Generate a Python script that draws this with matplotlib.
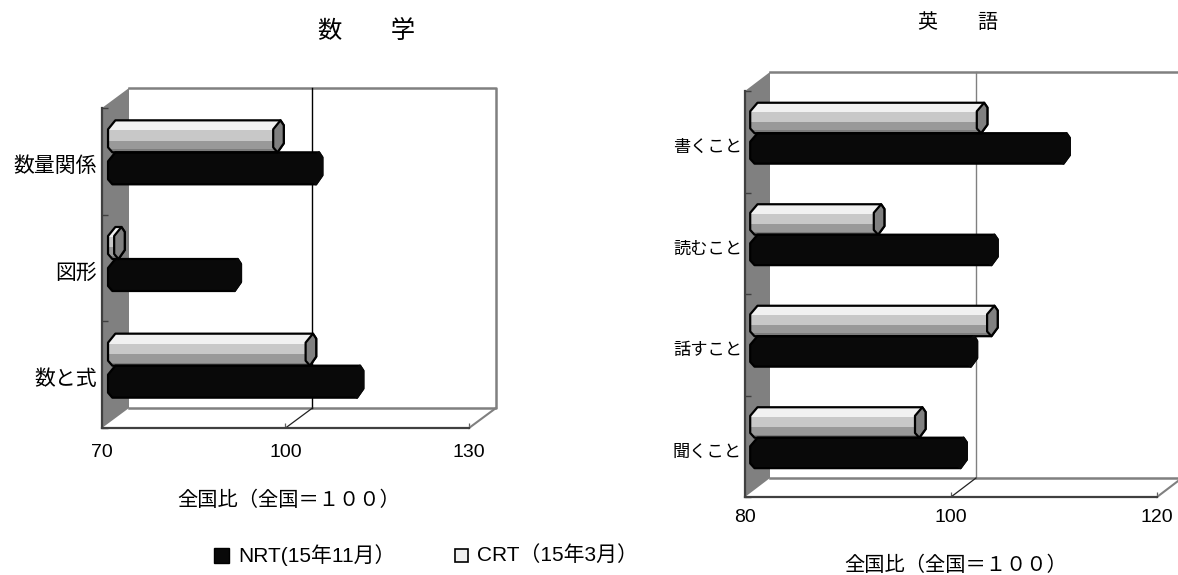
import matplotlib
matplotlib.use('Agg')
import matplotlib.pyplot as plt
from matplotlib.patches import Polygon, Rectangle
from matplotlib.transforms import Affine2D, Bbox, IdentityTransform

plt.rcParams['font.family'] = ['Liberation Sans', 'Noto Sans CJK JP', 'DejaVu Sans']

W, H = 1178, 575

# 数学
math_cats = ['数と式', '図形', '数量関係']
math_nrt = [110, 90, 103.3]
math_crt = [102.3, 71, 97]
math_ticks = [70, 100, 130]

# 英語
eng_cats = ['聞くこと', '話すこと', '読むこと', '書くこと']
eng_nrt = [100, 101, 103, 110]
eng_crt = [96, 103, 92, 102]
eng_ticks = [80, 100, 120]

# 全角のカッコ・数字
xlabel_text = '全国比\uff08全国\uff1d\uff11\uff10\uff10\uff09'
nrt_label = 'NRT(15年11月\uff09'
crt_label = 'CRT\uff0815年3月\uff09'

# グラデーションの帯 (上から)
crt_bands = [('#f1f1f1', 0.31), ('#c8c8c8', 0.33), ('#999999', 0.27), ('#7c7c7c', 0.09)]
nrt_bands = [('#090909', 1.0)]


def cap_shape(cx, cy, h):
    # 棒の端の八角形 (上がやや右にずれる)
    r = 5.3
    s = h / 32.0
    return [(cx + 2, cy + 16 * s), (cx + r, cy + 11 * s), (cx + r, cy - 7 * s),
            (cx - 1, cy - 16 * s), (cx - r, cy - 11 * s), (cx - r, cy + 7 * s)]


def draw_bar(ax, y, value, base, height, bands, cap_color, cap_edge, ox, oy):
    tr = ax.transData + Affine2D().translate(ox, oy)
    x0, y0 = tr.transform((base, y))
    x1, _ = tr.transform((value, y))
    y_top = tr.transform((base, y + height / 2))[1]
    y_bot = tr.transform((base, y - height / 2))[1]
    h = y_top - y_bot

    left = cap_shape(x0, y0, h)
    right = cap_shape(x1, y0, h)
    outline = [left[0], right[0], right[1], right[2], right[3], left[3], left[4], left[5]]
    shape = Polygon(outline, closed=True, transform=IdentityTransform(), facecolor='none',
                    edgecolor='black', linewidth=1.6, joinstyle='round', zorder=4)
    ax.add_patch(shape)

    # 帯はbarhで描いて輪郭でクリップする
    top = y + height / 2
    for color, frac in bands:
        band_h = height * frac
        rects = ax.barh(top - band_h / 2, value - base + 4, left=base - 2, height=band_h, color=color,
                        transform=tr, zorder=3)
        for r in rects:
            r.set_clip_path(shape)
        top -= band_h

    ax.add_patch(Polygon(right, closed=True, transform=IdentityTransform(), facecolor=cap_color,
                         edgecolor=cap_edge, linewidth=1.6, joinstyle='round', zorder=5))


def draw_chart(box, ticks, cats, nrt, crt, depth, edge_100, fs_cat, cat_pad, label_dy, tick_pad):
    x0, y0, x1, y1 = box
    ax = fig.add_axes([x0 / W, 1 - y1 / H, (x1 - x0) / W, (y1 - y0) / H])
    ax.set_xlim(ticks[0], ticks[-1])
    ax.set_ylim(0, len(cats))
    ax.patch.set_visible(False)
    dx, dy = depth
    back = ax.transData + Affine2D().translate(dx, dy)
    n = len(cats)
    lo, hi = ticks[0], ticks[-1]

    # 左の壁
    wall = [ax.transData.transform(p) for p in [(lo, 0), (lo, n)]]
    wall += [back.transform(p) for p in [(lo, n), (lo, 0)]]
    ax.add_patch(Polygon(wall, closed=True, transform=IdentityTransform(), facecolor='#808080',
                         edgecolor='none', zorder=1, clip_on=False))

    # 奥の枠と床
    ax.plot([lo, hi, hi, lo], [n, n, 0, 0], color='#808080', lw=1.8, transform=back, clip_on=False, zorder=2)
    right_front = ax.transData.transform((hi, 0))
    right_back = back.transform((hi, 0))
    ax.plot([right_front[0], right_back[0]], [right_front[1], right_back[1]], color='#808080', lw=1.5,
            transform=IdentityTransform(), clip_on=False, zorder=2)

    # 100の線
    ax.plot([100, 100], [0, n], color=edge_100, lw=1.0, transform=back, clip_on=False, zorder=2)
    p0 = ax.transData.transform((100, 0))
    p1 = back.transform((100, 0))
    ax.plot([p0[0], p1[0]], [p0[1], p1[1]], color='#222222', lw=0.9,
            transform=IdentityTransform(), clip_on=False, zorder=2)

    for i in range(n):
        draw_bar(ax, i + 0.65, crt[i], lo, 0.3, crt_bands, '#808080', 'black', dx * 0.42, dy * 0.45)
        draw_bar(ax, i + 0.35, nrt[i], lo, 0.3, nrt_bands, '#090909', '#090909', dx * 0.42, dy * 0.45)

    for s in ['top', 'right']:
        ax.spines[s].set_visible(False)
    for s in ['left', 'bottom']:
        ax.spines[s].set_color('#404040')
        ax.spines[s].set_linewidth(1.6)
        ax.spines[s].set_zorder(6)

    ax.set_xticks(ticks)
    ax.tick_params(axis='x', direction='in', length=3.5, width=0.9, color='#606060', pad=tick_pad, labelsize=14)
    ax.set_yticks(range(n + 1))
    ax.set_yticklabels([])
    ax.tick_params(axis='y', direction='in', length=4.5, width=1.0, color='#404040', pad=0)

    for i, c in enumerate(cats):
        ax.annotate(c, (lo, i + 0.5), xytext=(-cat_pad, label_dy), textcoords='offset pixels',
                    ha='right', va='center', fontsize=fs_cat, annotation_clip=False)
    return ax


fig = plt.figure(figsize=(W / 100, H / 100), dpi=100, facecolor='white')

draw_chart((102, 108, 469, 428), math_ticks, math_cats, math_nrt, math_crt, (27, 20), 'black',
           15, 5, -5, 11.5)
draw_chart((745, 91, 1157, 497), eng_ticks, eng_cats, eng_nrt, eng_crt, (25, 19), '#808080',
           12.4, 3, -6, 9)

fig.text(367 / W, 1 - 31 / H, '数\u3000\u3000学', ha='center', va='center', fontsize=17.5)
fig.text(958 / W, 1 - 22 / H, '英\u3000\u3000語', ha='center', va='center', fontsize=14.4)
fig.text(177 / W, 1 - 500 / H, xlabel_text, ha='left', va='center', fontsize=14.6)
fig.text(844 / W, 1 - 565 / H, xlabel_text, ha='left', va='center', fontsize=14.6)

# 凡例
fig.add_artist(Rectangle((214 / W, 1 - 563 / H), 15 / W, 15 / H, transform=fig.transFigure,
                         facecolor='#090909', edgecolor='black', lw=1))
fig.add_artist(Rectangle((455 / W, 1 - 562 / H), 13 / W, 13 / H, transform=fig.transFigure,
                         facecolor='#f1f1f1', edgecolor='black', lw=1.2))
fig.text(238 / W, 1 - 555 / H, nrt_label, ha='left', va='center', fontsize=15)
t = fig.text(477 / W, 1 - 555 / H, crt_label, ha='left', va='center', fontsize=15)
t.set_clip_box(Bbox([[440, 0], [628, H]]))
t.set_clip_on(True)

fig.savefig('out.png', dpi=100)
